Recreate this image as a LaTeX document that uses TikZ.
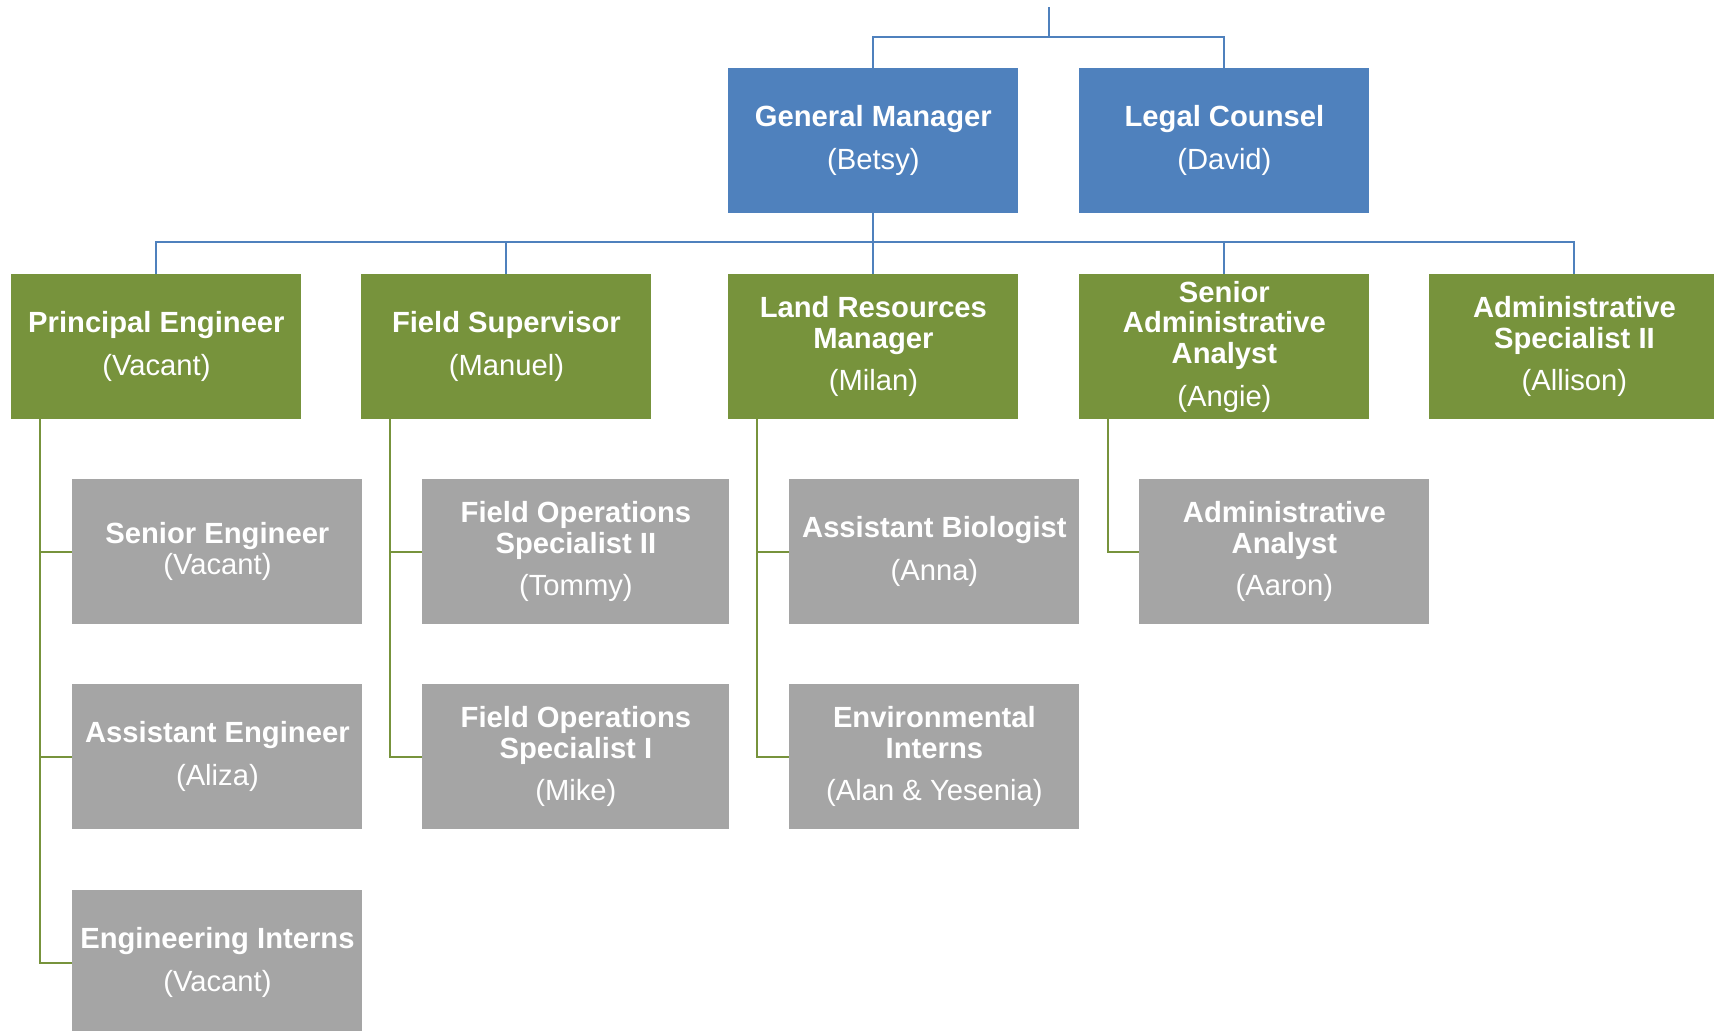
\documentclass[tikz,border=0pt]{standalone}
\usepackage{fontspec}
\setmainfont{Liberation Sans}
\definecolor{execblue}{HTML}{4F81BD}
\definecolor{mgrgreen}{HTML}{77933C}
\definecolor{staffgrey}{HTML}{A5A5A5}

\begin{document}
\begin{tikzpicture}
    [x=0.5pt, y=-0.5pt,
    every node/.style={anchor=north west, inner sep=0pt, text=white, align=center,
      minimum width=145pt, minimum height=72.3pt,
      font=\fontsize{14.6pt}{15.3pt}\selectfont},
    exec/.style={fill=execblue},
    manager/.style={fill=mgrgreen},
    staff/.style={fill=staffgrey},
    wide/.style={minimum width=153.5pt},
    execline/.style={draw=execblue, line width=1pt},
    staffline/.style={draw=mgrgreen, line width=1pt}]
    \useasboundingbox (0,0) rectangle (1714,1030);
    % top level
    \node[exec] (gm) at (728,68) {\textbf{General Manager}\\[6pt](Betsy)};
    \node[exec] (lc) at (1079,68) {\textbf{Legal Counsel}\\[6pt](David)};
    % managers
    \node[manager] (pe) at (11,274) {\textbf{Principal Engineer}\\[6pt](Vacant)};
    \node[manager] (fs) at (361,274) {\textbf{Field Supervisor}\\[6pt](Manuel)};
    \node[manager] (lrm) at (728,274) {\textbf{Land Resources}\\\textbf{Manager}\\[6pt](Milan)};
    \node[manager] (saa) at (1079,274) {\textbf{Senior}\\\textbf{Administrative}\\\textbf{Analyst}\\[6pt](Angie)};
    \node[manager] (as2) at (1429,274) {\textbf{Administrative}\\\textbf{Specialist II}\\[6pt](Allison)};
    % staff
    \node[staff] (se) at (72,479) {\textbf{Senior Engineer}\\(Vacant)};
    \node[staff] (ae) at (72,684) {\textbf{Assistant Engineer}\\[6pt](Aliza)};
    \node[staff] (ei) at (72,890) {\textbf{Engineering Interns}\\[6pt](Vacant)};
    \node[staff, wide] (fos2) at (422,479) {\textbf{Field Operations}\\\textbf{Specialist II}\\[6pt](Tommy)};
    \node[staff, wide] (fos1) at (422,684) {\textbf{Field Operations}\\\textbf{Specialist I}\\[6pt](Mike)};
    \node[staff] (ab) at (789,479) {\textbf{Assistant Biologist}\\[6pt](Anna)};
    \node[staff] (envi) at (789,684) {\textbf{Environmental}\\\textbf{Interns}\\[6pt](Alan \& Yesenia)};
    \node[staff] (aa) at (1139,479) {\textbf{Administrative}\\\textbf{Analyst}\\[6pt](Aaron)};
    % connectors
    \coordinate (top) at (1049,7);
    \coordinate (bar1) at (1049,37);
    \coordinate (bar2) at (873,242);
    \draw[execline] (top) -- (bar1);
    \draw[execline] (gm.north) |- (bar1) -| (lc.north);
    \draw[execline] (gm.south) -- (lrm.north);
    \draw[execline] (pe.north) |- (bar2) -| (as2.north);
    \draw[execline] (fs.north) -- (fs.north |- bar2);
    \draw[execline] (saa.north) -- (saa.north |- bar2);
    \foreach \boss/\emp in {pe/se, pe/ae, pe/ei, fs/fos2, fs/fos1, lrm/ab, lrm/envi, saa/aa}
      \draw[staffline] ([xshift=14.5pt]\boss.south west) |- (\emp.west);
\end{tikzpicture}
\end{document}
